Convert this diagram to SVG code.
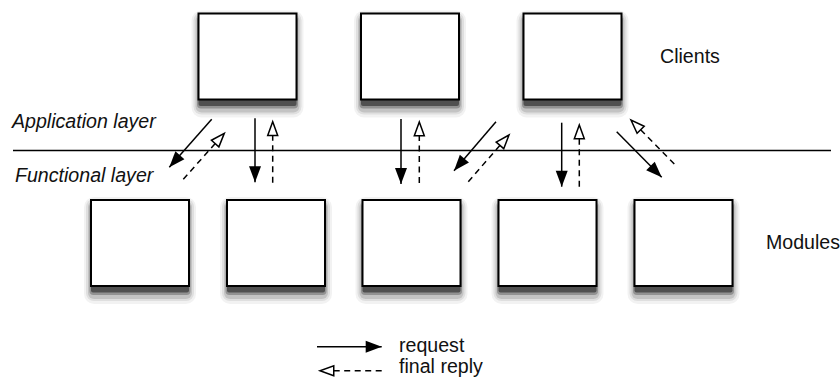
<svg xmlns="http://www.w3.org/2000/svg" width="840" height="385" viewBox="0 0 840 385">
<style>
.box{fill:#fff;stroke:#000;stroke-width:2}
.req{stroke:#000;stroke-width:1.5;fill:none;marker-end:url(#solid)}
.rep{stroke:#000;stroke-width:1.5;fill:none;stroke-dasharray:6 4.5;marker-end:url(#open)}
.lbl{font-family:"Liberation Sans",Arial,sans-serif;font-size:19.6px;fill:#111}
.it{font-style:italic}
.s{fill:#000}
</style>
<defs>
<g id="bx">
<rect class="s" x="-7" y="-3" width="112" height="107" rx="10" opacity="0.05"/>
<rect class="s" x="-5" y="-1" width="108" height="102" rx="8" opacity="0.08"/>
<rect class="s" x="-3" y="1" width="104" height="98" rx="6" opacity="0.12"/>
<rect class="s" x="-1.5" y="3" width="101" height="92" rx="4" opacity="0.25"/>
<rect class="s" x="0" y="4.5" width="98" height="88" rx="2" opacity="0.45"/>
<rect class="box" x="0" y="0" width="98" height="86"/>
</g>
<marker id="solid" markerUnits="userSpaceOnUse" markerWidth="18" markerHeight="14" refX="16" refY="6" orient="auto" overflow="visible">
<path d="M0,0 L16,6 L0,12 z" fill="#000" stroke="none"/>
</marker>
<marker id="open" markerUnits="userSpaceOnUse" markerWidth="18" markerHeight="14" refX="14.5" refY="5.5" orient="auto" overflow="visible">
<path d="M0.75,0.5 L14.5,5.5 L0.75,10.5 z" fill="#fff" stroke="#000" stroke-width="1.5" stroke-dasharray="none"/>
</marker>
</defs>
<g id="client1"><use href="#bx" x="198.5" y="13.5"/></g>
<g id="client2"><use href="#bx" x="361" y="13.5"/></g>
<g id="client3"><use href="#bx" x="523.5" y="13.5"/></g>
<g id="module1"><use href="#bx" x="91" y="200"/></g>
<g id="module2"><use href="#bx" x="227" y="200"/></g>
<g id="module3"><use href="#bx" x="362.5" y="200"/></g>
<g id="module4"><use href="#bx" x="498.5" y="200"/></g>
<g id="module5"><use href="#bx" x="634.5" y="200"/></g>
<g id="layer-line">
<line x1="13" y1="150.5" x2="831" y2="150.5" stroke="#000" stroke-width="1.5"/>
</g>
<g id="labels">
<text class="lbl" x="660" y="63">Clients</text>
<text class="lbl" x="766" y="249">Modules</text>
<text class="lbl it" x="12" y="128">Application layer</text>
<text class="lbl it" x="15" y="182">Functional layer</text>
<text class="lbl" x="399" y="352">request</text>
<text class="lbl" x="399" y="373">final reply</text>
</g>
<g id="connectors">
<line class="req" x1="211.7" y1="119.3" x2="169.3" y2="167.3"/>
<line class="rep" x1="183.3" y1="179.3" x2="224.3" y2="133.3"/>
<line class="req" x1="255" y1="118.3" x2="255" y2="182.3"/>
<line class="rep" x1="272.7" y1="182.7" x2="272.7" y2="121.7"/>
<line class="req" x1="401" y1="119" x2="401" y2="184"/>
<line class="rep" x1="419.3" y1="183" x2="419.3" y2="122"/>
<line class="req" x1="496" y1="121.7" x2="454" y2="170.7"/>
<line class="rep" x1="468.3" y1="181.7" x2="509" y2="135"/>
<line class="req" x1="561.7" y1="122.7" x2="561.7" y2="186.7"/>
<line class="rep" x1="579.3" y1="186.7" x2="579.3" y2="125"/>
<line class="req" x1="616.7" y1="131.7" x2="661.7" y2="177.3"/>
<line class="rep" x1="674.3" y1="164" x2="631" y2="120"/>
</g>
<g id="legend">
<line class="req" x1="317" y1="346.7" x2="381.7" y2="346.7"/>
<line class="rep" x1="381.7" y1="370.7" x2="320" y2="370.7"/>
</g>
</svg>
